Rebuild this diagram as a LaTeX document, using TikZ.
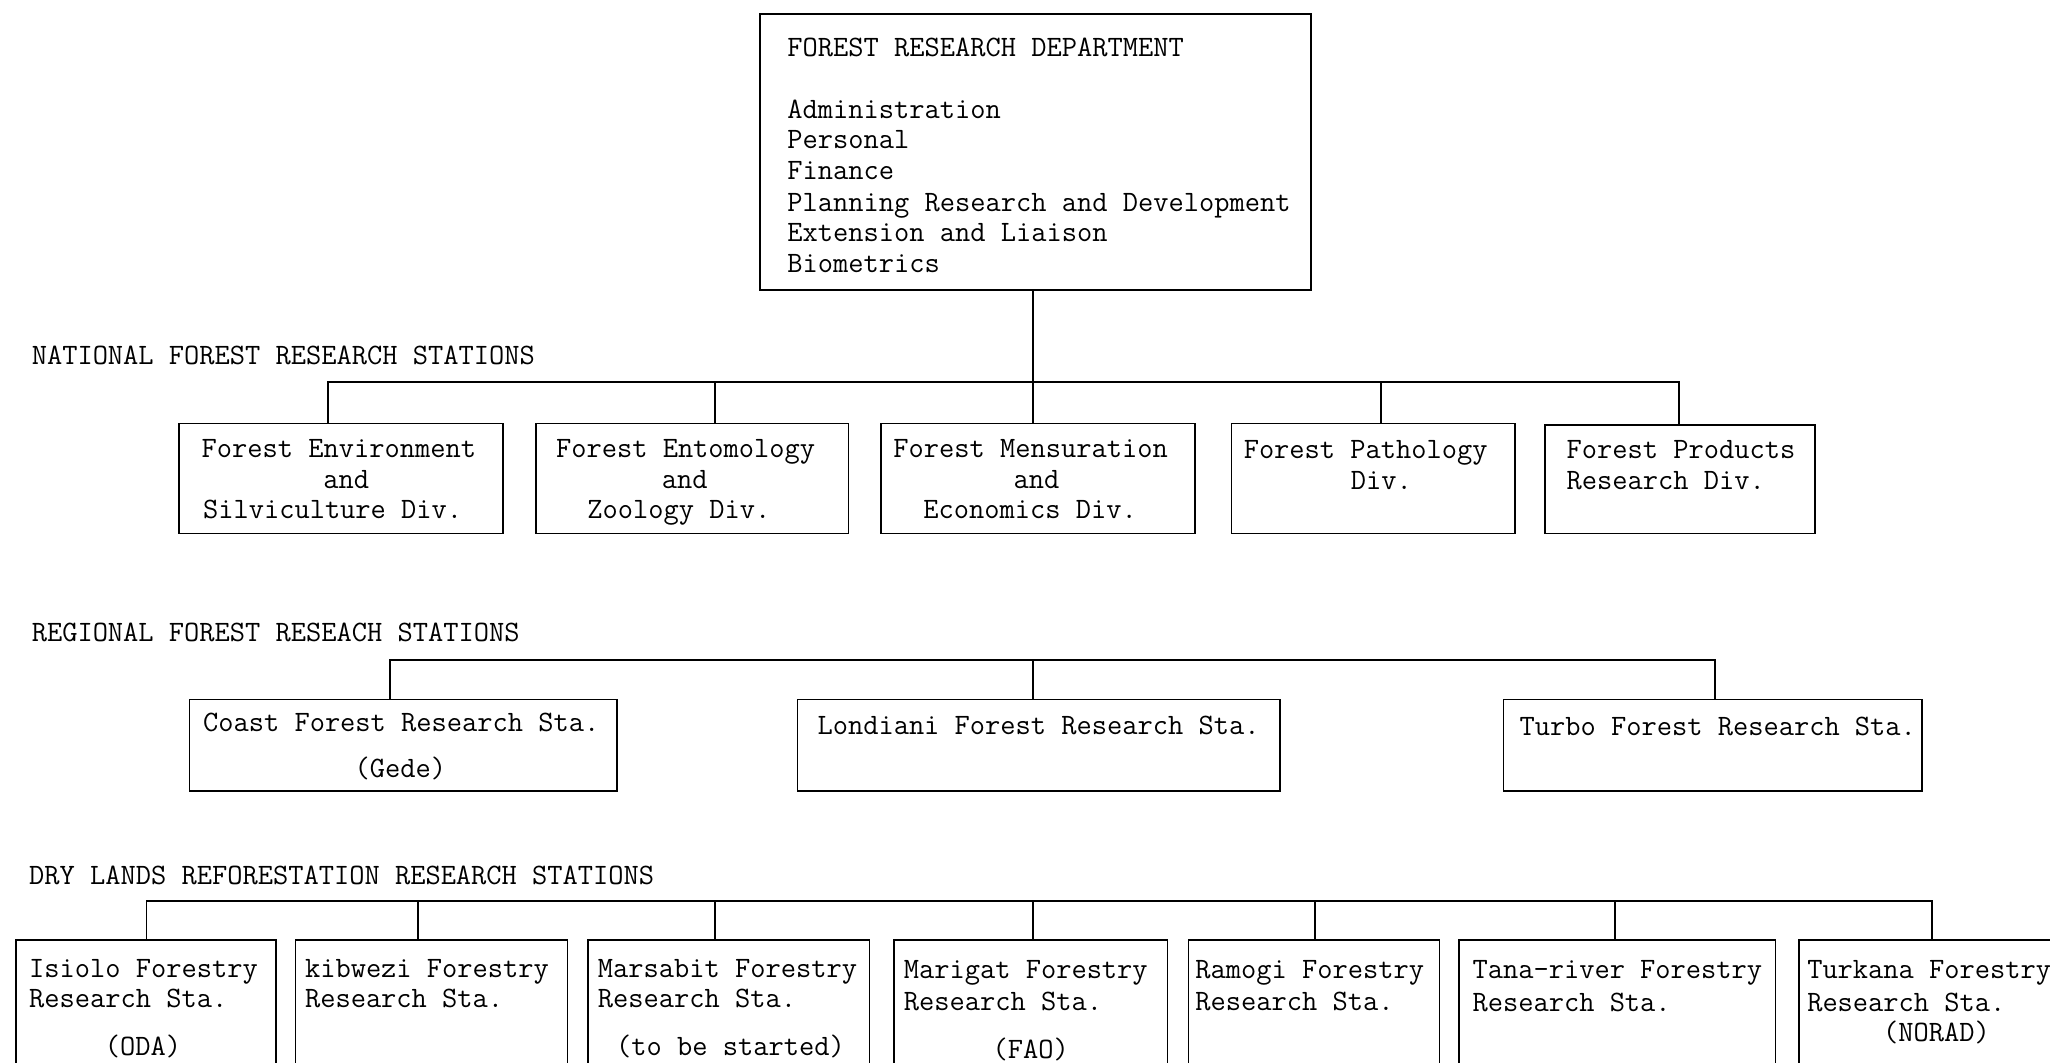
\documentclass[tikz,border=0pt]{standalone}
\usepackage{fontspec}
\usetikzlibrary{fit}
\begin{document}
\begin{tikzpicture}[x=0.6537pt,y=-0.6537pt,
  box/.style={draw, line width=0.9pt, inner sep=0pt},
  txt/.style={font=\ttfamily\fontsize{14.8pt}{16pt}\selectfont, inner sep=0pt, anchor=base west, yshift=-1.7pt},
  wire/.style={line width=0.9pt}]
\useasboundingbox (0,0) rectangle (1568,813);
\clip (0,0) rectangle (1568,813);
\fill[white] (0,0) rectangle (1568,813);

% ---------- boxes ----------
\node[box, fit={(581,11) (1003,222)}] (top) {};
\node[box, fit={(137,324) (385,408)}] (b1) {};
\node[box, fit={(410,324) (649,408)}] (b2) {};
\node[box, fit={(674,324) (914,408)}] (b3) {};
\node[box, fit={(942,324) (1159,408)}] (b4) {};
\node[box, fit={(1182,325) (1388,408)}] (b5) {};
\node[box, fit={(145,535) (472,605)}] (coast) {};
\node[box, fit={(610,535) (979,605)}] (lond) {};
\node[box, fit={(1150,535) (1470,605)}] (turbo) {};
\node[box, fit={(12,719) (211,840)}] (isiolo) {};
\node[box, fit={(226,719) (434,840)}] (kib) {};
\node[box, fit={(450,719) (665,840)}] (mars) {};
\node[box, fit={(684,719) (893,840)}] (marig) {};
\node[box, fit={(909,719) (1101,840)}] (ram) {};
\node[box, fit={(1116,719) (1358,840)}] (tana) {};
\node[box, fit={(1376,719) (1590,840)}] (turk) {};

% ---------- texts ----------
\node[txt] (t0) at (602,41) {FOREST RESEARCH DEPARTMENT};
\node[txt] (t1) at (602,88) {Administration};
\node[txt] (t2) at (602,111) {Personal};
\node[txt] (t3) at (602,135) {Finance};
\node[txt] (t4) at (602,159) {Planning Research and Development};
\node[txt] (t5) at (602,182) {Extension and Liaison};
\node[txt] (t6) at (602,206) {Biometrics};

\node[txt] (h1) at (24,276) {NATIONAL FOREST RESEARCH STATIONS};
\node[txt] (h2) at (24,488) {REGIONAL FOREST RESEACH STATIONS};
\node[txt] (h3) at (22,674) {DRY LANDS REFORESTATION RESEARCH STATIONS};

\node[txt] (b1a) at (154,347) {Forest Environment};
\node[txt] (b1b) at (247,371) {and};
\node[txt] (b1c) at (155,394) {Silviculture Div.};
\node[txt] (b2a) at (425,347) {Forest Entomology};
\node[txt] (b2b) at (506,371) {and};
\node[txt] (b2c) at (449,394) {Zoology Div.};
\node[txt] (b3a) at (683,347) {Forest Mensuration};
\node[txt] (b3b) at (775,371) {and};
\node[txt] (b3c) at (706,394) {Economics Div.};
\node[txt] (b4a) at (951,348) {Forest Pathology};
\node[txt] (b4b) at (1033,372) {Div.};
\node[txt] (b5a) at (1198,348) {Forest Products};
\node[txt] (b5b) at (1198,372) {Research Div.};

\node[txt] (ca) at (155,557) {Coast Forest Research Sta.};
\node[txt] (cb) at (271,592) {(Gede)};
\node[txt] (la) at (625,559) {Londiani Forest Research Sta.};
\node[txt] (ta) at (1162,560) {Turbo Forest Research Sta.};

\node[txt] (i1) at (22,745) {Isiolo Forestry};
\node[txt] (i2) at (22,768) {Research Sta.};
\node[txt] (i3) at (80,805) {(ODA)};
\node[txt] (k1) at (233,745) {kibwezi Forestry};
\node[txt] (k2) at (233,768) {Research Sta.};
\node[txt] (m1) at (457,745) {Marsabit Forestry};
\node[txt] (m2) at (457,768) {Research Sta.};
\node[txt] (m3) at (471,805) {(to be started)};
\node[txt] (g1) at (691,746) {Marigat Forestry};
\node[txt] (g2) at (691,770) {Research Sta.};
\node[txt] (g3) at (759,807) {(FAO)};
\node[txt] (r1) at (914,746) {Ramogi Forestry};
\node[txt] (r2) at (914,770) {Research Sta.};
\node[txt] (n1) at (1126,746) {Tana-river Forestry};
\node[txt] (n2) at (1126,771) {Research Sta.};
\node[txt] (u1) at (1382,746) {Turkana Forestry};
\node[txt] (u2) at (1382,771) {Research Sta.};
\node[txt] (u3) at (1440,794) {(NORAD)};

% ---------- connectors ----------
% national
\coordinate (nL) at (251,292);
\coordinate (nR) at (1284,292);
\coordinate (n2c) at (547,292);
\coordinate (n4c) at (1056,292);
\coordinate (nM) at (790,292);
\draw[wire] (top.south -| nM) -- (nM |- b3.north);
\draw[wire] (nL |- b1.north) -- (nL) -- (nR) -- (nR |- b5.north);
\draw[wire] (n2c) -- (n2c |- b2.north);
\draw[wire] (n4c) -- (n4c |- b4.north);

% regional
\coordinate (rL) at (298,505);
\coordinate (rR) at (1312,505);
\coordinate (rM) at (790,505);
\draw[wire] (rL |- coast.north) -- (rL) -- (rR) -- (rR |- turbo.north);
\draw[wire] (rM) -- (rM |- lond.north);

% dry lands
\coordinate (dL) at (112,689);
\coordinate (dR) at (1478,689);
\coordinate (d2) at (320,689);
\coordinate (d3) at (547,689);
\coordinate (d4) at (790,689);
\coordinate (d5) at (1006,689);
\coordinate (d6) at (1235,689);
\draw[wire] (dL |- isiolo.north) -- (dL) -- (dR) -- (dR |- turk.north);
\draw[wire] (d2) -- (d2 |- kib.north);
\draw[wire] (d3) -- (d3 |- mars.north);
\draw[wire] (d4) -- (d4 |- marig.north);
\draw[wire] (d5) -- (d5 |- ram.north);
\draw[wire] (d6) -- (d6 |- tana.north);
\end{tikzpicture}
\end{document}
